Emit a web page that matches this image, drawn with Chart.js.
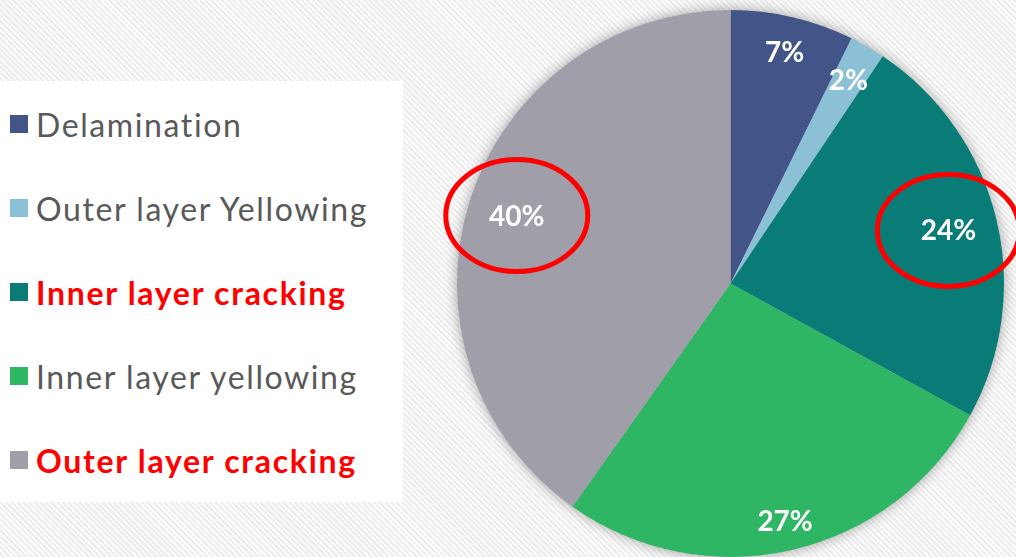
<!DOCTYPE html>
<html>
<head>
<meta charset="utf-8">
<script src="https://cdn.jsdelivr.net/npm/chart.js@4.4.1/dist/chart.umd.min.js"></script>
<style>
  html, body { margin: 0; padding: 0; }
  body {
    width: 1016px; height: 557px; overflow: hidden; position: relative;
    background: repeating-linear-gradient(45deg, #fbfbfb 0px, #fbfbfb 2px, #ededed 2px, #ededed 4px);
  }
  #chart { position: absolute; left: 0; top: 0; }
  #legend { position: absolute; left: 0; top: 81px; width: 403px; height: 421px; background: #fff; }
  .item {
    position: absolute; left: 10px; height: 40px; display: flex; align-items: center;
    font-family: Lato, "Noto Sans", sans-serif; font-size: 32px; color: #595959; white-space: nowrap;
    letter-spacing: 1.6px;
  }
  .item.hl { color: #ff0000; font-weight: bold; letter-spacing: 1.7px; }
  .box { width: 18px; height: 18px; margin-right: 8px; flex: none; }
</style>
</head>
<body>
<canvas id="chart" width="1016" height="557"></canvas>
<div id="legend"></div>
<script>
// data
const categories = ['Delamination', 'Outer layer Yellowing', 'Inner layer cracking', 'Inner layer yellowing', 'Outer layer cracking'];
const shares = [7.3, 2.1, 23.6, 26.8, 40.2];
const percentLabels = ['7%', '2%', '24%', '27%', '40%'];
const colors = ['#435488', '#8bc0d6', '#0a7c77', '#2eb664', '#a09fa9'];
const highlighted = [false, false, true, false, true];

// legend on the left
const legend = document.getElementById('legend');
categories.forEach((name, i) => {
    const row = document.createElement('div');
    row.className = 'item' + (highlighted[i] ? ' hl' : '');
    row.style.top = (23 + i * 84) + 'px';
    row.innerHTML = `<span class="box" style="background:${colors[i]}"></span><span>${name}</span>`;
    legend.appendChild(row);
});

// soft shadow behind the pie
const shadowPlugin = {
    id: 'pieShadow',
    beforeDatasetsDraw(chart) {
        const arc = chart.getDatasetMeta(0).data[0];
        if (!arc) return;
        const ctx = chart.ctx;
        ctx.save();
        ctx.shadowColor = 'rgba(0,0,0,0.4)';
        ctx.shadowBlur = 14;
        ctx.beginPath();
        ctx.arc(arc.x, arc.y, arc.outerRadius - 1, 0, Math.PI * 2);
        ctx.fillStyle = '#bbb';
        ctx.fill();
        ctx.restore();
    }
};

// percentages inside slices + red rings on highlighted ones
const labelRadius = [0.87, 0.86, 0.82, 0.89, 0.82];
const labelPlugin = {
    id: 'sliceLabels',
    afterDatasetsDraw(chart) {
        const ctx = chart.ctx;
        chart.getDatasetMeta(0).data.forEach((arc, i) => {
            const p = arc.getProps(['x', 'y', 'startAngle', 'endAngle', 'outerRadius'], true);
            const mid = (p.startAngle + p.endAngle) / 2;
            const r = p.outerRadius * labelRadius[i];
            const x = p.x + Math.cos(mid) * r;
            const y = p.y + Math.sin(mid) * r;
            ctx.save();
            ctx.font = 'bold 28px Lato, "Noto Sans", sans-serif';
            ctx.fillStyle = '#ffffff';
            ctx.textAlign = 'center';
            ctx.textBaseline = 'middle';
            ctx.fillText(percentLabels[i], x, y + 1);
            if (highlighted[i]) {
                ctx.beginPath();
                ctx.ellipse(x, y, 71, 56, 0, 0, Math.PI * 2);
                ctx.lineWidth = 5;
                ctx.strokeStyle = '#ff0000';
                ctx.stroke();
            }
            ctx.restore();
        });
    }
};

new Chart(document.getElementById('chart'), {
    type: 'pie',
    data: {
        labels: categories,
        datasets: [{
            data: shares,
            backgroundColor: colors,
            borderWidth: 0
        }]
    },
    options: {
        responsive: false,
        animation: false,
        layout: { padding: { left: 457, right: 12, top: 10, bottom: 0 } },
        plugins: {
            legend: { display: false },
            tooltip: { enabled: false }
        }
    },
    plugins: [shadowPlugin, labelPlugin]
});
</script>
</body>
</html>
